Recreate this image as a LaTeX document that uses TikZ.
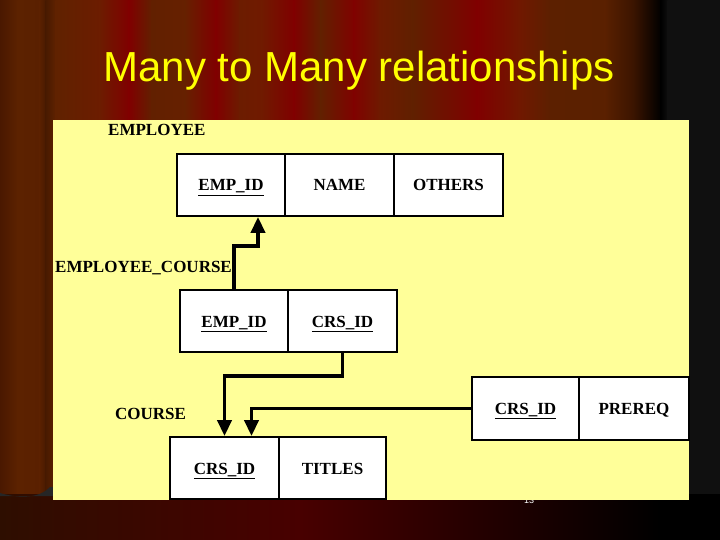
\documentclass[tikz,border=0pt]{standalone}
\usepackage{fontspec}
\setmainfont{Liberation Serif}
\newfontfamily\titlefont{Liberation Sans}
\usetikzlibrary{arrows.meta}
\definecolor{k0}{HTML}{4A1800}
\definecolor{k1}{HTML}{5C2200}
\definecolor{k2}{HTML}{5A2000}
\definecolor{k3}{HTML}{481A00}
\definecolor{k4}{HTML}{602200}
\definecolor{k5}{HTML}{6C1C00}
\definecolor{k6}{HTML}{800000}
\definecolor{k7}{HTML}{622000}
\definecolor{k8}{HTML}{662000}
\definecolor{k9}{HTML}{800000}
\definecolor{k10}{HTML}{6C1C00}
\definecolor{k11}{HTML}{701A00}
\definecolor{k12}{HTML}{800000}
\definecolor{k13}{HTML}{622000}
\definecolor{k14}{HTML}{800200}
\definecolor{k15}{HTML}{6E1A00}
\definecolor{k16}{HTML}{602000}
\definecolor{k17}{HTML}{800000}
\definecolor{k18}{HTML}{701800}
\definecolor{k19}{HTML}{5C2000}
\definecolor{k20}{HTML}{5A2000}
\definecolor{k21}{HTML}{3A1400}
\definecolor{k22}{HTML}{000000}
\definecolor{k23}{HTML}{101010}
\definecolor{k24}{HTML}{101010}
\definecolor{f0}{HTML}{2E0E00}
\definecolor{f1}{HTML}{480000}
\definecolor{f2}{HTML}{000000}
\definecolor{panel}{HTML}{FFFF99}
\definecolor{titleyellow}{HTML}{FFFF00}
\begin{document}
\begin{tikzpicture}[x=1pt,y=-1pt,
  cell/.style={draw=black, line width=1.8pt, fill=white, minimum height=62pt,
    inner sep=0pt, text height=12pt, text depth=0pt,
    font=\fontsize{17}{19}\selectfont\bfseries},
  tname/.style={anchor=west, inner sep=0pt, font=\fontsize{17}{19}\selectfont\bfseries},
  link/.style={line width=3.8pt, line cap=butt},
  tip/.style={-{Triangle[width=14pt,length=16pt]}}]
\useasboundingbox (0,0) rectangle (720,540);
\begin{scope}
\clip (0,0) rectangle (720,540);
% curtain stripes
\foreach \xa/\ca/\xb/\cb in {0/k0/18/k1, 18/k1/40/k2, 40/k2/46/k3, 46/k3/56/k4, 56/k4/100/k5,
  100/k5/129/k6, 129/k6/152/k7, 152/k7/185/k8, 185/k8/216/k9, 216/k9/240/k10,
  240/k10/262/k11, 262/k11/294/k12, 294/k12/321/k13, 321/k13/354/k14, 354/k14/380/k15,
  380/k15/413/k16, 413/k16/477/k17, 477/k17/520/k18, 520/k18/551/k19, 551/k19/605/k20,
  605/k20/634/k21, 634/k21/661/k22, 661/k22/668/k23, 668/k23/720/k24}
  \shade[left color=\ca, right color=\cb] (\xa-0.3,0) rectangle (\xb+0.3,540);
% floor
\shade[left color=f0, right color=f1] (0,494) rectangle (300.3,540);
\shade[left color=f1, right color=f2] (300,494) rectangle (660,540);
\fill[black] (660,494) rectangle (720,540);
\fill[black!85] (0,493) .. controls (20,499) and (40,498) .. (50,487) -- (60,487) -- (60,496) -- (0,496) -- cycle;
% slide number
\node[text=white, font=\fontsize{9}{10}\selectfont\titlefont, inner sep=0pt] (num) at (529,500) {13};
% panel
\fill[panel] (53,120) rectangle (689,500);
\end{scope}
% title
\node[text=titleyellow, font=\fontsize{42}{46}\selectfont\titlefont, inner sep=0pt, anchor=base] (title) at (359,82) {Many to Many relationships};
% table names
\node[tname] (lemp) at (108,130) {EMPLOYEE};
\node[tname] (lec) at (55,268) {EMPLOYEE\_COURSE};
\node[tname] (lcrs) at (115,414) {COURSE};
% EMPLOYEE
\node[cell, minimum width=108pt] (e1) at (231,185) {\underline{EMP\_ID}};
\node[cell, minimum width=109pt] (e2) at (339.5,185) {NAME};
\node[cell, minimum width=109pt] (e3) at (448.5,185) {OTHERS};
% EMPLOYEE_COURSE
\node[cell, minimum width=108pt] (ec1) at (234,321) {\underline{EMP\_ID}};
\node[cell, minimum width=109pt] (ec2) at (342.5,321) {\underline{CRS\_ID}};
% COURSE
\node[cell, minimum width=109pt] (c1) at (224.5,468) {\underline{CRS\_ID}};
\node[cell, minimum width=107pt] (c2) at (332.5,468) {TITLES};
% PREREQ
\node[cell, minimum width=107pt, minimum height=63pt] (p1) at (525.5,408.5) {\underline{CRS\_ID}};
\node[cell, minimum width=110pt, minimum height=63pt] (p2) at (634,408.5) {PREREQ};
% connectors
\draw[link, tip] (ec1.north) -- ++(0,-43) -| ([xshift=27pt]e1.south);
\draw[link, tip] (ec2.south) -- ++(0,23) -| (c1.north);
\draw[link, tip] (p1.west) -| ([xshift=27pt]c1.north);
\end{tikzpicture}
\end{document}
